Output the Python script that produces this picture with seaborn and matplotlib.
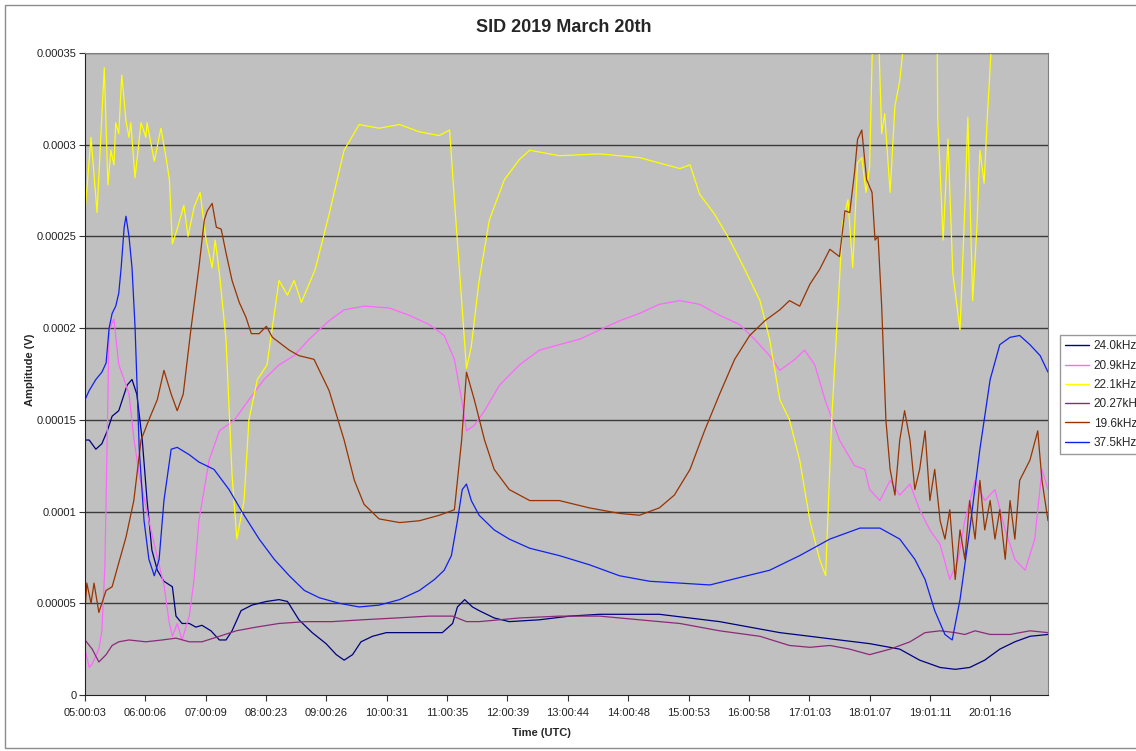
import pandas as pd
import seaborn as sns
import matplotlib.pyplot as plt
from matplotlib.patches import Rectangle

# SID receiver, 2019-03-20 -- times in decimal hours UTC, amplitudes in microvolts

t_240 = [5.00, 5.07, 5.18, 5.28, 5.37, 5.45, 5.56, 5.70, 5.78, 5.86, 5.95, 6.03, 6.11, 6.20,
         6.31, 6.45, 6.51, 6.61, 6.73, 6.84, 6.94, 7.09, 7.23, 7.34, 7.44, 7.59, 7.77, 8.01,
         8.22, 8.36, 8.55, 8.77, 9.00, 9.17, 9.30, 9.44, 9.58, 9.77, 10.00, 10.33, 10.66,
         10.93, 11.10, 11.18, 11.30, 11.43, 11.54, 11.79, 12.04, 12.54, 13.04, 13.54, 14.04,
         14.53, 15.03, 15.53, 16.03, 16.53, 17.03, 17.52, 18.02, 18.52, 18.85, 19.19, 19.44,
         19.68, 19.93, 20.18, 20.43, 20.68, 20.98]
v_240 = [139, 139, 134, 137, 144, 152, 155, 169, 172, 164, 139, 106, 79, 68,
         62, 59, 43, 39, 39, 37, 38, 35, 30, 30, 35, 46, 49, 51,
         52, 51, 41, 34, 28, 22, 19, 22, 29, 32, 34, 34, 34,
         34, 39, 48, 52, 48, 46, 42, 40, 41, 43, 44, 44,
         44, 42, 40, 37, 34, 32, 30, 28, 25, 19, 15, 14,
         15, 19, 25, 29, 32, 33]

t_209 = [5.00, 5.07, 5.12, 5.23, 5.28, 5.33, 5.40, 5.48, 5.56, 5.65, 5.73, 5.81, 5.90, 6.06,
         6.20, 6.31, 6.40, 6.45, 6.53, 6.61, 6.73, 6.81, 6.89, 7.06, 7.23, 7.48, 7.72, 7.97,
         8.22, 8.47, 8.72, 9.05, 9.30, 9.63, 10.05, 10.38, 10.71, 10.96, 11.13, 11.25, 11.33,
         11.46, 11.63, 11.88, 12.21, 12.54, 12.87, 13.21, 13.54, 13.87, 14.20, 14.53, 14.87,
         15.20, 15.53, 15.86, 16.11, 16.36, 16.53, 16.78, 16.94, 17.11, 17.28, 17.52, 17.77,
         17.94, 18.02, 18.19, 18.36, 18.52, 18.69, 18.85, 19.02, 19.19, 19.35, 19.49, 19.60,
         19.77, 19.93, 20.10, 20.27, 20.43, 20.60, 20.76, 20.88, 20.98]
v_209 = [25, 15, 17, 25, 35, 70, 199, 205, 180, 172, 164, 140, 120, 95,
         75, 60, 39, 32, 39, 30, 43, 63, 95, 128, 144, 150, 161, 172,
         180, 185, 194, 204, 210, 212, 211, 207, 202, 196, 183, 161, 144,
         147, 155, 169, 180, 188, 191, 194, 199, 204, 208, 213, 215,
         213, 207, 202, 194, 185, 177, 183, 188, 180, 161, 139, 125,
         123, 112, 106, 117, 109, 115, 101, 90, 82, 63, 74, 95,
         117, 106, 112, 90, 74, 68, 85, 123, 112]

t_221 = [5.00, 5.10, 5.20, 5.32, 5.38, 5.43, 5.48, 5.51, 5.56, 5.61, 5.68, 5.73, 5.76, 5.83,
         5.93, 6.01, 6.03, 6.15, 6.26, 6.35, 6.40, 6.45, 6.53, 6.64, 6.71, 6.81, 6.91, 7.01,
         7.11, 7.16, 7.23, 7.34, 7.44, 7.52, 7.64, 7.72, 7.86, 8.02, 8.22, 8.36, 8.47, 8.59,
         8.82, 9.05, 9.30, 9.55, 9.88, 10.22, 10.55, 10.88, 11.05, 11.13, 11.25, 11.33, 11.41,
         11.54, 11.71, 11.96, 12.21, 12.38, 12.87, 13.54, 14.20, 14.87, 15.04, 15.20, 15.45,
         15.70, 15.95, 16.20, 16.36, 16.53, 16.69, 16.86, 17.03, 17.19, 17.29, 17.39, 17.52,
         17.57, 17.66, 17.74, 17.82, 17.89, 17.96, 18.02, 18.07, 18.16, 18.22, 18.27, 18.36,
         18.44, 18.52, 18.60, 18.85, 19.14, 19.15, 19.24, 19.32, 19.40, 19.52, 19.60, 19.65,
         19.73, 19.80, 19.85, 19.92, 19.97, 20.05, 20.18, 20.98]
v_221 = [263, 304, 263, 342, 278, 297, 289, 312, 306, 338, 313, 304, 312, 282,
         312, 304, 312, 291, 309, 292, 281, 246, 254, 267, 250, 266, 274, 248,
         233, 248, 230, 194, 120, 85, 106, 150, 172, 180, 226, 218, 226, 214,
         232, 262, 297, 311, 309, 311, 307, 305, 308, 270, 215, 178, 190,
         226, 259, 281, 292, 297, 294, 295, 293, 287, 289, 273, 262,
         248, 232, 215, 194, 161, 150, 128, 95, 74, 65, 150, 226,
         257, 270, 233, 290, 293, 274, 288, 360, 370, 306, 317, 274,
         321, 335, 360, 400, 360, 315, 248, 303, 230, 199, 266, 315,
         215, 255, 297, 279, 313, 360, 400, 420]

t_2027 = [5.00, 5.12, 5.23, 5.35, 5.45, 5.56, 5.73, 6.01, 6.28, 6.51, 6.73, 6.94, 7.23, 7.51,
          7.84, 8.22, 8.67, 9.10, 9.60, 10.17, 10.71, 11.10, 11.33, 11.54, 12.21, 12.87, 13.54,
          14.20, 14.87, 15.53, 16.20, 16.69, 17.03, 17.36, 17.69, 18.02, 18.36, 18.69, 18.94,
          19.19, 19.44, 19.60, 19.77, 20.02, 20.35, 20.68, 20.98]
v_2027 = [30, 25, 18, 22, 27, 29, 30, 29, 30, 31, 29, 29, 32, 35,
          37, 39, 40, 40, 41, 42, 43, 43, 40, 40, 42, 43, 43,
          41, 39, 35, 32, 27, 26, 27, 25, 22, 25, 29, 34,
          35, 34, 33, 35, 33, 33, 35, 34]

t_196 = [5.00, 5.03, 5.10, 5.15, 5.23, 5.35, 5.45, 5.56, 5.68, 5.81, 5.93, 6.06, 6.20, 6.31,
         6.43, 6.53, 6.63, 6.76, 6.89, 6.98, 7.03, 7.11, 7.18, 7.26, 7.34, 7.44, 7.56, 7.67,
         7.76, 7.89, 8.01, 8.11, 8.39, 8.55, 8.80, 9.05, 9.30, 9.47, 9.63, 9.88, 10.22, 10.55,
         10.88, 11.13, 11.25, 11.33, 11.46, 11.63, 11.79, 12.04, 12.38, 12.87, 13.37, 13.87,
         14.20, 14.53, 14.78, 15.04, 15.28, 15.53, 15.78, 16.03, 16.28, 16.53, 16.69, 16.86,
         17.03, 17.19, 17.36, 17.52, 17.61, 17.69, 17.77, 17.82, 17.89, 17.97, 18.06, 18.11,
         18.16, 18.22, 18.29, 18.36, 18.44, 18.52, 18.60, 18.69, 18.77, 18.85, 18.94, 19.02,
         19.10, 19.19, 19.27, 19.35, 19.44, 19.52, 19.60, 19.68, 19.77, 19.85, 19.93, 20.02,
         20.10, 20.18, 20.27, 20.35, 20.43, 20.51, 20.68, 20.81, 20.88, 20.98]
v_196 = [46, 61, 50, 61, 45, 57, 59, 72, 86, 106, 139, 150, 161, 177,
         164, 155, 164, 200, 233, 259, 264, 268, 255, 254, 241, 226, 214, 206,
         197, 197, 201, 195, 188, 185, 183, 166, 139, 117, 104, 96, 94, 95,
         98, 101, 139, 176, 161, 139, 123, 112, 106, 106, 102, 99,
         98, 102, 109, 123, 144, 164, 183, 196, 204, 210, 215, 212,
         224, 232, 243, 239, 264, 263, 285, 303, 308, 281, 274, 248,
         250, 212, 150, 123, 109, 139, 155, 139, 112, 123, 144, 106,
         123, 95, 85, 101, 63, 90, 74, 106, 85, 117, 90, 106,
         85, 101, 74, 106, 85, 117, 128, 144, 117, 95]

t_375 = [5.00, 5.07, 5.18, 5.28, 5.35, 5.40, 5.45, 5.51, 5.56, 5.60, 5.65, 5.68, 5.73, 5.78,
         5.83, 5.90, 5.98, 6.06, 6.15, 6.23, 6.31, 6.43, 6.53, 6.73, 6.89, 7.14, 7.39, 7.64,
         7.89, 8.14, 8.39, 8.64, 8.89, 9.22, 9.55, 9.88, 10.22, 10.55, 10.80, 10.96, 11.08,
         11.18, 11.26, 11.33, 11.41, 11.54, 11.79, 12.04, 12.38, 12.87, 13.37, 13.87, 14.37,
         14.87, 15.37, 15.86, 16.36, 16.86, 17.36, 17.86, 18.19, 18.52, 18.77, 18.94, 19.10,
         19.27, 19.39, 19.52, 19.68, 19.85, 20.02, 20.18, 20.35, 20.51, 20.68, 20.85, 20.98]
v_375 = [161, 166, 172, 176, 181, 200, 208, 212, 219, 233, 255, 261, 250, 233,
         201, 134, 95, 74, 65, 74, 106, 134, 135, 131, 127, 123, 112, 98,
         85, 74, 65, 57, 53, 50, 48, 49, 52, 57, 63, 68, 76,
         95, 112, 115, 106, 98, 90, 85, 80, 76, 71, 65, 62,
         61, 60, 64, 68, 76, 85, 91, 91, 85, 74, 63, 46,
         33, 30, 52, 90, 134, 172, 191, 195, 196, 191, 185, 176]

series = ["24.0kHz", "20.9kHz", "22.1kHz", "20.27kHz", "19.6kHz", "37.5kHz"]
colors = ["#000080", "#FF66FF", "#FFFF00", "#8B2A7A", "#993300", "#1020F0"]

tick_labels = ["05:00:03", "06:00:06", "07:00:09", "08:00:23", "09:00:26", "10:00:31",
               "11:00:35", "12:00:39", "13:00:44", "14:00:48", "15:00:53", "16:00:58",
               "17:01:03", "18:01:07", "19:01:11", "20:01:16"]
y_ticks = [0, 0.00005, 0.0001, 0.00015, 0.0002, 0.00025, 0.0003, 0.00035]
y_labels = ["0", "0.00005", "0.0001", "0.00015", "0.0002", "0.00025", "0.0003", "0.00035"]

frames = []
for name, t, v in zip(series,
                      [t_240, t_209, t_221, t_2027, t_196, t_375],
                      [v_240, v_209, v_221, v_2027, v_196, v_375]):
    frames.append(pd.DataFrame({"hours": t, "amp": [x * 1e-6 for x in v], "series": name}))
df = pd.concat(frames, ignore_index=True)

tick_pos = []
for s in tick_labels:
    h, m, sec = (int(p) for p in s.split(":"))
    tick_pos.append(h + m / 60 + sec / 3600)

sns.set_style("white")
plt.rcParams["font.family"] = ["Liberation Sans", "DejaVu Sans"]

fig = plt.figure(figsize=(11.36, 7.51), dpi=100)
ax = fig.add_axes([85 / 1136, 1 - 695 / 751, 963 / 1136, 642 / 751])
ax.set_facecolor("#C0C0C0")

sns.lineplot(data=df, x="hours", y="amp", hue="series", hue_order=series,
             palette=dict(zip(series, colors)), estimator=None, sort=False,
             linewidth=0.9, ax=ax)

ax.set_xlim(5.0, 20.98)
ax.set_ylim(0, 0.00035)
ax.set_yticks(y_ticks)
ax.set_yticklabels(y_labels)
ax.set_xticks(tick_pos)
ax.set_xticklabels(tick_labels)
ax.tick_params(axis="both", labelsize=8, length=4, width=0.8, direction="out",
               color="#333333", labelcolor="#222222", bottom=True, left=True)
ax.tick_params(axis="x", pad=5)
ax.tick_params(axis="y", pad=2)
for yv in y_ticks[1:]:
    ax.axhline(yv, color="#3a3a3a", linewidth=1.0, zorder=1)
for side in ["top", "right"]:
    ax.spines[side].set_color("#808080")
for side in ["left", "bottom"]:
    ax.spines[side].set_color("#222222")
ax.set_xlabel("")
ax.set_ylabel("")

fig.text(564 / 1136, 1 - 27 / 751, "SID 2019 March 20th", ha="center", va="center",
         fontsize=13, fontweight="bold")
fig.text(541 / 1136, 1 - 733 / 751, "Time (UTC)", ha="center", va="center",
         fontsize=8, fontweight="bold")
fig.text(30 / 1136, 1 - 370 / 751, "Amplitude (V)", ha="center", va="center",
         rotation=90, fontsize=8, fontweight="bold")

sns.move_legend(ax, "upper left", bbox_to_anchor=(1060 / 1136, 1 - 335 / 751),
                bbox_transform=fig.transFigure, title=None, frameon=True, fancybox=False,
                fontsize=8.5, handlelength=2.0, labelspacing=0.62, borderpad=0.45,
                handletextpad=0.4, borderaxespad=0)
leg = ax.get_legend()
leg.get_frame().set_edgecolor("#808080")
leg.get_frame().set_linewidth(1.0)
for line in leg.get_lines():
    line.set_linewidth(1.0)

# outer chart border like the Excel chart area
fig.patches.append(Rectangle((5 / 1136, 3 / 751), 1.2, 1 - 8 / 751, transform=fig.transFigure,
                             fill=False, edgecolor="#8c8c8c", linewidth=1.0))

fig.savefig("out.png", dpi=100)
